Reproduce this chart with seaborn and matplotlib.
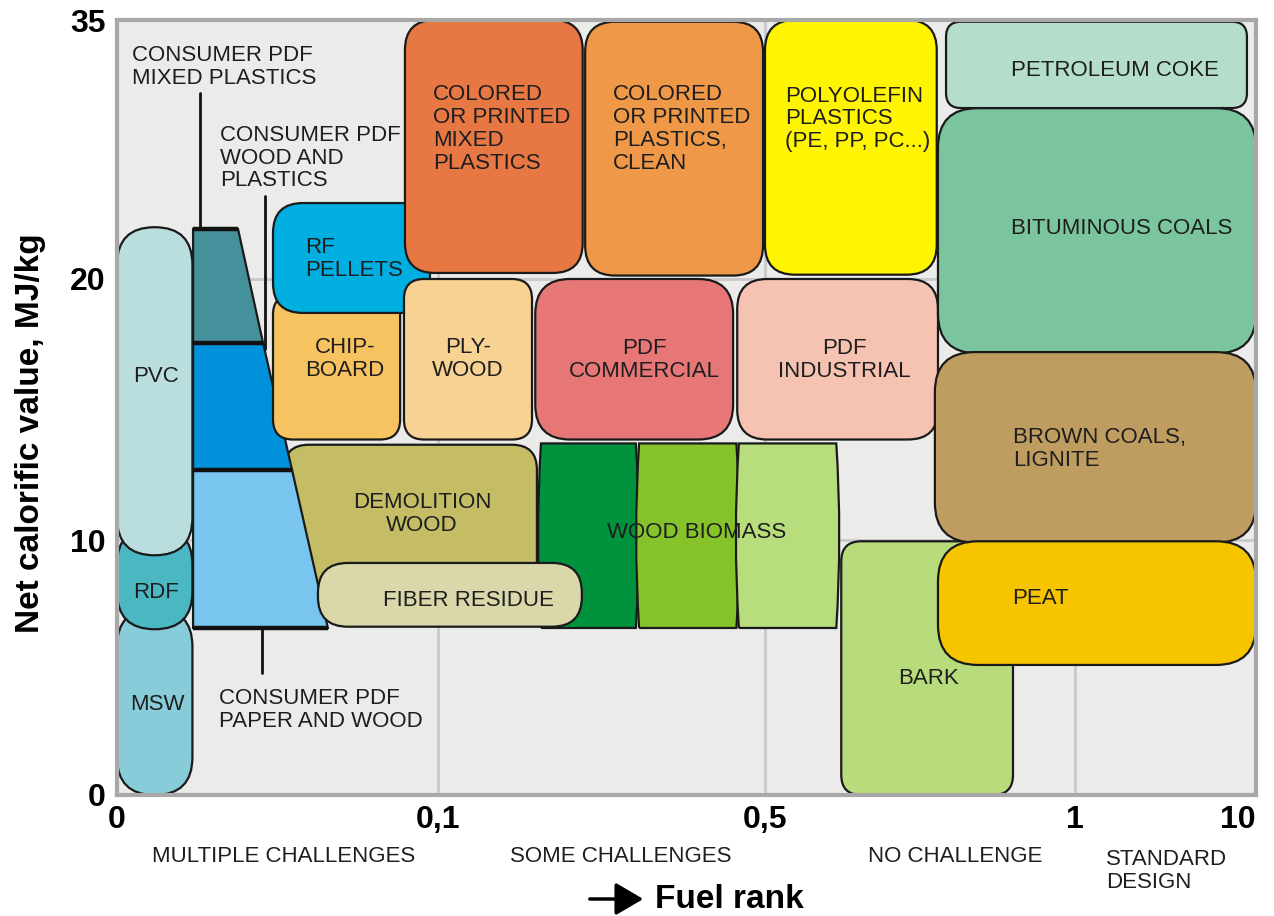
import numpy as np
import matplotlib
matplotlib.use("Agg")
import matplotlib.pyplot as plt
from matplotlib.patches import FancyBboxPatch, Polygon, PathPatch
from matplotlib.path import Path
import seaborn as sns

# ---- data: fuel areas, fuel rank (x) and net calorific value MJ/kg (y) ----
fuels = ["MSW", "RDF", "PVC", "DEMOLITION WOOD",
         "WOOD BIOMASS A", "WOOD BIOMASS B", "WOOD BIOMASS C",
         "CHIPBOARD", "RF PELLETS", "PLYWOOD",
         "COLORED MIXED PLASTICS", "COLORED CLEAN PLASTICS", "POLYOLEFIN PLASTICS",
         "PDF COMMERCIAL", "PDF INDUSTRIAL", "BARK",
         "BITUMINOUS COALS", "PETROLEUM COKE", "BROWN COALS", "PEAT",
         "FIBER RESIDUE"]
rank_lo = [0.0, 0.0, 0.0, 0.052,
           0.226, 0.346, 0.468,
           0.0486, 0.0486, 0.0894,
           0.0897, 0.280, 0.500,
           0.219, 0.466, 0.623,
           0.779, 0.792, 0.774, 0.779,
           0.0626]
rank_hi = [0.0235, 0.0235, 0.0235, 0.221,
           0.342, 0.465, 0.615,
           0.0882, 0.0975, 0.215,
           0.277, 0.4976, 0.777,
           0.461, 0.779, 0.900,
           10.0, 9.55, 10.0, 10.0,
           0.276]
ncv_lo = [0.0, 6.5, 9.4, 7.6,
          6.55, 6.55, 6.55,
          13.85, 18.7, 13.85,
          20.35, 20.2, 20.25,
          13.85, 13.85, 0.0,
          17.15, 29.9, 9.9, 5.1,
          6.6]
ncv_hi = [7.3, 10.5, 23.0, 13.65,
          13.7, 13.7, 13.7,
          19.4, 24.4, 20.0,
          35.0, 34.9, 35.0,
          20.0, 20.0, 9.95,
          29.9, 34.9, 17.2, 9.95,
          9.1]

# consumer PDF wedge: band boundaries (MJ/kg) and right edge rank at each
consumer_ncv = [6.55, 12.7, 17.55, 22.9]
consumer_rank_right = [0.0657, 0.0545, 0.0455, 0.0377]
consumer_rank_left = 0.0237

# leader lines: rank, ncv from, ncv to
leader_rank = [0.0259, 0.0461, 0.0452]
leader_ncv_from = [30.8, 24.8, 6.55]
leader_ncv_to = [22.9, 17.3, 4.8]

rank_ticks = [0, 0.1, 0.5, 1, 10]
rank_tick_labels = ["0", "0,1", "0,5", "1", "10"]
ncv_ticks = [0, 10, 20, 35]
ncv_tick_labels = ["0", "10", "20", "35"]

# ---- styles ----
colors = {
    "MSW": "#88CCDA", "RDF": "#4BB7C3", "PVC": "#BADDDE",
    "DEMOLITION WOOD": "#C4BD66",
    "WOOD BIOMASS A": "#00923D", "WOOD BIOMASS B": "#86C32B", "WOOD BIOMASS C": "#B8DD7D",
    "CHIPBOARD": "#F7C360", "RF PELLETS": "#00AEDF", "PLYWOOD": "#F8D292",
    "COLORED MIXED PLASTICS": "#E77743", "COLORED CLEAN PLASTICS": "#EF9948",
    "POLYOLEFIN PLASTICS": "#FFF500",
    "PDF COMMERCIAL": "#E77777", "PDF INDUSTRIAL": "#F6C3B3", "BARK": "#B8DC7C",
    "BITUMINOUS COALS": "#7AC59E", "PETROLEUM COKE": "#B4DEC9",
    "BROWN COALS": "#BF9D60", "PEAT": "#F7C400", "FIBER RESIDUE": "#DAD8AB",
}
radius_px = {
    "MSW": 38, "RDF": 38, "PVC": 38, "DEMOLITION WOOD": 25,
    "WOOD BIOMASS A": 0, "WOOD BIOMASS B": 0, "WOOD BIOMASS C": 0,
    "CHIPBOARD": 20, "RF PELLETS": 30, "PLYWOOD": 20,
    "COLORED MIXED PLASTICS": 30, "COLORED CLEAN PLASTICS": 30, "POLYOLEFIN PLASTICS": 30,
    "PDF COMMERCIAL": 35, "PDF INDUSTRIAL": 30, "BARK": 20,
    "BITUMINOUS COALS": 40, "PETROLEUM COKE": 15, "BROWN COALS": 40, "PEAT": 40,
    "FIBER RESIDUE": 30,
}
barrel = {"WOOD BIOMASS A", "WOOD BIOMASS B", "WOOD BIOMASS C"}
consumer_colors = ["#78C5F0", "#0091DB", "#45919B"]

W, H = 1274, 916
AX_L, AX_T, AX_R, AX_B = 117, 20, 1256, 795
AX_W, AX_H = AX_R - AX_L, AX_B - AX_T
rank_px = [0, 321, 648, 958, 1139]
ncv_px = [0, 255, 516, 775]

# labels in figure pixels: text, x, y, ha
box_labels = [
    ("MSW", 157, 705, "center"), ("RDF", 156, 593, "center"), ("PVC", 156, 377, "center"),
    ("DEMOLITION\nWOOD", 422, 514, "center"), ("WOOD BIOMASS", 697, 532, "center"),
    ("CHIP-\nBOARD", 345, 359, "center"), ("RF\nPELLETS", 305, 259, "left"),
    ("PLY-\nWOOD", 468, 359, "center"),
    ("COLORED\nOR PRINTED\nMIXED\nPLASTICS", 433, 129, "left"),
    ("COLORED\nOR PRINTED\nPLASTICS,\nCLEAN", 613, 129, "left"),
    ("POLYOLEFIN\nPLASTICS\n(PE, PP, PC...)", 785, 119, "left"),
    ("PDF\nCOMMERCIAL", 644, 360, "center"), ("PDF\nINDUSTRIAL", 844, 360, "center"),
    ("BARK", 928, 679, "center"), ("BITUMINOUS COALS", 1122, 229, "center"),
    ("PETROLEUM COKE", 1115, 71, "center"), ("BROWN COALS,\nLIGNITE", 1013, 449, "left"),
    ("PEAT", 1012, 598, "left"), ("FIBER RESIDUE", 468, 600, "center"),
    ("CONSUMER PDF\nMIXED PLASTICS", 132, 67, "left"),
    ("CONSUMER PDF\nWOOD AND\nPLASTICS", 220, 158, "left"),
    ("CONSUMER PDF\nPAPER AND WOOD", 219, 710, "left"),
    ("MULTIPLE CHALLENGES", 152, 857, "left"), ("SOME CHALLENGES", 510, 857, "left"),
    ("NO CHALLENGE", 868, 857, "left"), ("STANDARD\nDESIGN", 1106, 871, "left"),
]

sns.set_theme(style="darkgrid", rc={"axes.facecolor": "#EBEBEA", "grid.color": "#C9C9C9",
                                    "figure.facecolor": "white"})
plt.rcParams["font.family"] = ["Liberation Sans", "DejaVu Sans"]

fig = plt.figure(figsize=(W / 100, H / 100), dpi=100)
ax = fig.add_axes([AX_L / W, 1 - AX_B / H, AX_W / W, AX_H / H])


def fx(v):
    return np.interp(v, rank_ticks, rank_px)


def ix(p):
    return np.interp(p, rank_px, rank_ticks)


def fy(v):
    return np.interp(v, ncv_ticks, ncv_px)


def iy(p):
    return np.interp(p, ncv_px, ncv_ticks)


ax.set_xscale("function", functions=(fx, ix))
ax.set_yscale("function", functions=(fy, iy))
ax.set_xlim(0, 10)
ax.set_ylim(0, 35)
ax.set_xticks(rank_ticks)
ax.set_xticklabels(rank_tick_labels)
ax.set_yticks(ncv_ticks)
ax.set_yticklabels(ncv_tick_labels)
ax.tick_params(length=0, labelsize=23, colors="black")
ax.tick_params(axis="y", pad=8)
ax.tick_params(axis="x", pad=7)
for lbl in ax.get_xticklabels() + ax.get_yticklabels():
    lbl.set_fontweight("bold")
ax.get_xticklabels()[-1].set_horizontalalignment("right")
ax.grid(True, color="#C9C9C9", linewidth=2)
ax.set_axisbelow(True)
for s in ax.spines.values():
    s.set_visible(True)
    s.set_color("#A8A8A8")
    s.set_linewidth(3)
    s.set_zorder(30)

to_axes = ax.transData + ax.transAxes.inverted()


def draw_box(name, r0, r1, v0, v1):
    (x0, y0), (x1, y1) = to_axes.transform([(r0, v0), (r1, v1)])
    style = dict(facecolor=colors[name], edgecolor="#1A1A1A", linewidth=1.6, zorder=3)
    if name in barrel:
        # slightly bulging sides
        b = 6 / AX_W
        ym = (y0 + y1) / 2
        verts = [(x0, y0), (x1, y0), (x1 + b, ym), (x1, y1), (x0, y1), (x0 - b, ym), (x0, y0)]
        codes = [Path.MOVETO, Path.LINETO, Path.CURVE3, Path.CURVE3, Path.LINETO,
                 Path.CURVE3, Path.CURVE3]
        ax.add_patch(PathPatch(Path(verts, codes), transform=ax.transAxes, **style))
        return
    w_px, h_px = (x1 - x0) * AX_W, (y1 - y0) * AX_H
    rad = min(radius_px[name], w_px / 2, h_px / 2) / AX_W
    patch = FancyBboxPatch((x0, y0), x1 - x0, y1 - y0,
                           boxstyle=f"round,pad=0,rounding_size={rad}",
                           mutation_aspect=AX_W / AX_H, transform=ax.transAxes, **style)
    ax.add_patch(patch)


boxes = list(zip(fuels, rank_lo, rank_hi, ncv_lo, ncv_hi))
for b in boxes[:4]:
    draw_box(*b)

# consumer PDF wedge bands
for i in range(3):
    verts = [(consumer_rank_left, consumer_ncv[i]), (consumer_rank_right[i], consumer_ncv[i]),
             (consumer_rank_right[i + 1], consumer_ncv[i + 1]),
             (consumer_rank_left, consumer_ncv[i + 1])]
    ax.add_patch(Polygon(verts, closed=True, facecolor=consumer_colors[i],
                         edgecolor="#1A1A1A", linewidth=1.6, zorder=3))
for v, r in zip(consumer_ncv, consumer_rank_right):
    ax.plot([consumer_rank_left, r], [v, v], color="#111111", lw=3.2, zorder=3,
            solid_capstyle="butt")

for b in boxes[4:]:
    draw_box(*b)

# leader lines
for r, a, b in zip(leader_rank, leader_ncv_from, leader_ncv_to):
    sns.lineplot(x=[r, r], y=[a, b], color="#111111", linewidth=2, ax=ax,
                 estimator=None, sort=False, zorder=5)

for text, x, y, ha in box_labels:
    fig.text(x / W, 1 - y / H, text, ha=ha, va="center", multialignment=ha,
             fontsize=16, color="#1E1E1E", linespacing=1.12, zorder=40)

fig.text(31 / W, 1 - 433 / H, "Net calorific value, MJ/kg", rotation=90,
         ha="center", va="center", fontsize=24, fontweight="bold", color="black")
ax.annotate("", xy=(646 / W, 1 - 899 / H), xytext=(587 / W, 1 - 899 / H),
            xycoords="figure fraction", textcoords="figure fraction",
            arrowprops=dict(arrowstyle="-|>,head_length=0.85,head_width=0.5",
                            color="black", lw=2.5, mutation_scale=20))
fig.text(655 / W, 1 - 899 / H, "Fuel rank", ha="left", va="center",
         fontsize=24, fontweight="bold", color="black")

fig.savefig("out.png", dpi=100)
